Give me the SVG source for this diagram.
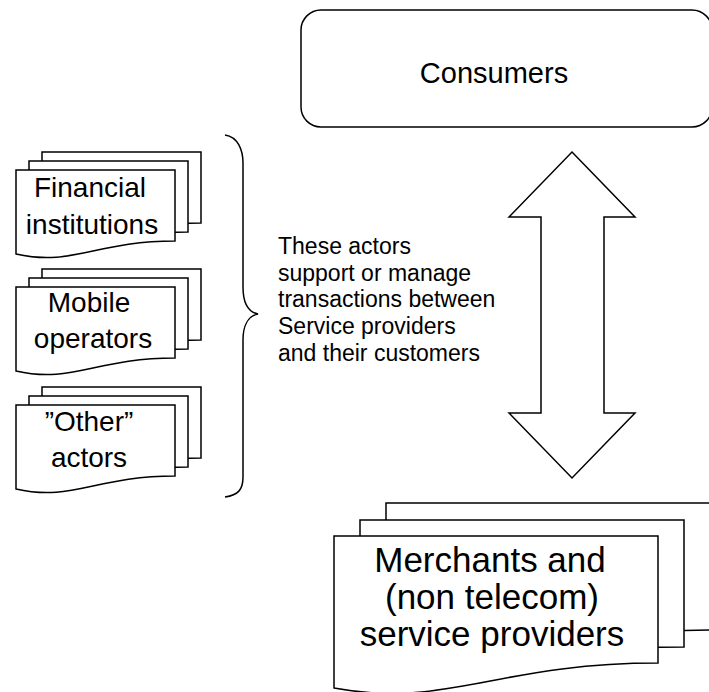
<svg xmlns="http://www.w3.org/2000/svg" width="709" height="692" viewBox="0 0 709 692">
<style>
.shape{fill:#fff;stroke:#000;stroke-width:1.5;stroke-linejoin:miter}
.line{fill:none;stroke:#000;stroke-width:1.5}
text{font-family:"Liberation Sans",Arial,sans-serif;fill:#000}
.big{font-size:29px;text-anchor:middle}
.act{font-size:28px;text-anchor:middle}
.mid{font-size:23px}
.mer{font-size:35px;text-anchor:middle}
</style>
<rect width="709" height="692" fill="#fff"/>
<defs>
<path id="ldoc" d="M0,0 L159,0 L159,71 C79.5,71 55.6,97 0,84 Z"/>
<path id="bdoc" d="M0,0 L324,0 L324,127 C162,127 113.4,173 0,152 Z"/>
</defs>

<g id="consumers">
<rect class="shape" x="301" y="10" width="411" height="117" rx="20" ry="20"/>
<text class="big" x="494" y="83">Consumers</text>
</g>

<g id="financial">
<use href="#ldoc" class="shape" x="42" y="152"/>
<use href="#ldoc" class="shape" x="29" y="161"/>
<use href="#ldoc" class="shape" x="16" y="170"/>
<text class="act" x="90" y="197">Financial</text>
<text class="act" x="92" y="234">institutions</text>
</g>

<g id="mobile">
<use href="#ldoc" class="shape" x="42" y="269"/>
<use href="#ldoc" class="shape" x="29" y="278"/>
<use href="#ldoc" class="shape" x="16" y="287"/>
<text class="act" x="89" y="312">Mobile</text>
<text class="act" x="93" y="348">operators</text>
</g>

<g id="other">
<use href="#ldoc" class="shape" x="42" y="387"/>
<use href="#ldoc" class="shape" x="29" y="396"/>
<use href="#ldoc" class="shape" x="16" y="405"/>
<text class="act" x="89" y="431">”Other”</text>
<text class="act" x="89" y="467">actors</text>
</g>

<g id="merchants">
<use href="#bdoc" class="shape" x="386" y="503"/>
<use href="#bdoc" class="shape" x="360" y="520"/>
<use href="#bdoc" class="shape" x="334" y="536"/>
<text class="mer" x="490" y="572">Merchants and</text>
<text class="mer" x="492" y="609">(non telecom)</text>
<text class="mer" x="492" y="646">service providers</text>
</g>

<g id="description">
<text class="mid" x="278" y="254">These actors</text>
<text class="mid" x="278" y="281">support or manage</text>
<text class="mid" x="278" y="307">transactions between</text>
<text class="mid" x="278" y="334">Service providers</text>
<text class="mid" x="278" y="361">and their customers</text>
</g>

<g id="connectors">
<path id="brace" class="line" d="M225,135 C238,137 243,150 243,163 L243,287 C243,302 248,312 258,314 C248,316 243,326 243,340 L243,477 C243,490 238,495 225,497"/>
<polygon id="double-arrow" class="shape" points="572,152 635,217 604,217 604,413 635,413 572,478 509,413 541,413 541,217 509,217"/>
</g>
</svg>
